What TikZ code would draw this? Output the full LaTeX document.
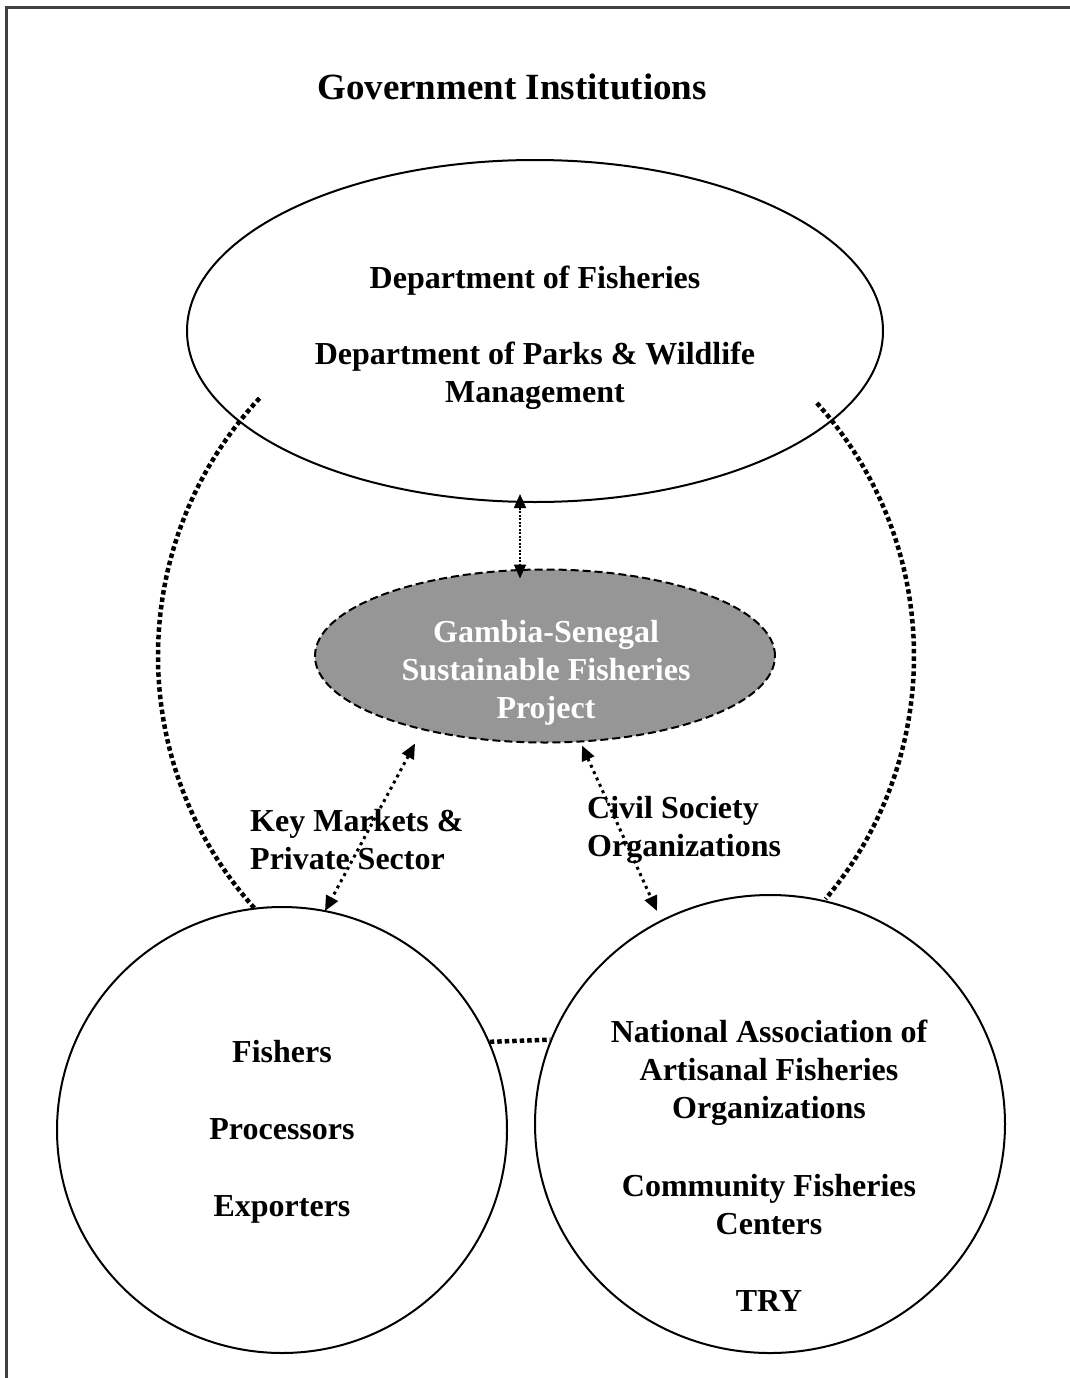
\documentclass[tikz,border=0pt]{standalone}
\usepackage{fontspec}
\setmainfont{Liberation Serif}
\usepackage{tikz}
\usetikzlibrary{arrows.meta}
\usetikzlibrary{shapes.geometric}
\usetikzlibrary{calc}
\definecolor{gspgray}{HTML}{969696}
\definecolor{framegray}{HTML}{404040}

\begin{document}
\begin{tikzpicture}[x=1pt,y=-1pt,
  every node/.style={font=\fontsize{32}{38}\selectfont\bfseries, inner sep=0pt},
  blob/.style={ellipse, draw, line width=2pt},
  bigdots/.style={line width=4.5pt, dash pattern=on 4.5pt off 3pt},
  linkdots/.style={line width=3pt, dash pattern=on 3pt off 4pt,
    {Triangle[length=15pt,width=13pt]}-{Triangle[length=15pt,width=13pt]}},
  thinlink/.style={line width=1.6pt, dash pattern=on 2pt off 1.5pt,
    {Triangle[length=14pt,width=12pt]}-{Triangle[length=14pt,width=12pt]}}]
\useasboundingbox (0,0) rectangle (1070,1378);
\coordinate (dofc) at (535,331);
\coordinate (gspc) at (545,656);
\coordinate (fpec) at (282,1130);
\coordinate (natc) at (770,1124);
\coordinate (ring) at (536,656);
% frame
\draw[line width=3pt, framegray] (6.5,1378) -- (6.5,7.5) -- (1070,7.5);
% title
\node[font=\fontsize{37}{42}\selectfont\bfseries] (title) at (512,87) {Government Institutions};
% draws the groups
\node[blob, minimum width=696pt, minimum height=342pt] (dof) at (dofc) {};
\node[blob, fill=gspgray, dash pattern=on 8pt off 4pt, minimum width=460pt, minimum height=173pt] (gsp) at (gspc) {};
\node[blob, minimum width=450pt, minimum height=446pt] (fpe) at (fpec) {};
\node[blob, minimum width=470pt, minimum height=458pt] (nat) at (natc) {};
% labels groups
\node[align=center] (doftext) at (535,338) {Department of Fisheries\\[38pt]Department of Parks \& Wildlife\\Management};
\node[align=center, text=white] (gsptext) at (546,673) {Gambia-Senegal\\Sustainable Fisheries\\Project};
\node[align=center] (fpetext) at (282,1132) {Fishers\\[39pt]Processors\\[39pt]Exporters};
\node[align=center] (nattext) at (769,1166) {National Association of\\Artisanal Fisheries\\Organizations\\[40pt]Community Fisheries\\Centers\\[39pt]TRY};
% labels links
\node[align=left, anchor=west] (mkt) at (250,840) {Key Markets \&\\Private Sector};
\node[align=left, anchor=west] (cso) at (587,830) {Civil Society\\Organizations};
% draws links
\draw[thinlink] ($(dof.south)+(-15,-9)$) -- ($(gsp.north)+(-25,10)$);
\draw[linkdots] ($(gsp.south)+(-130,0)$) -- ($(fpe.north)+(43,5)$);
\draw[linkdots] ($(gsp.south)+(37,2)$) -- ($(nat.north)+(-113,17)$);
\draw[bigdots] (fpe.23) -- (nat.159);
\draw[bigdots] (ring) ++(-137:378) arc[start angle=-137, end angle=-222, radius=378];
\draw[bigdots] (ring) ++(-42:378) arc[start angle=-42, end angle=40, radius=378];
\end{tikzpicture}
\end{document}
